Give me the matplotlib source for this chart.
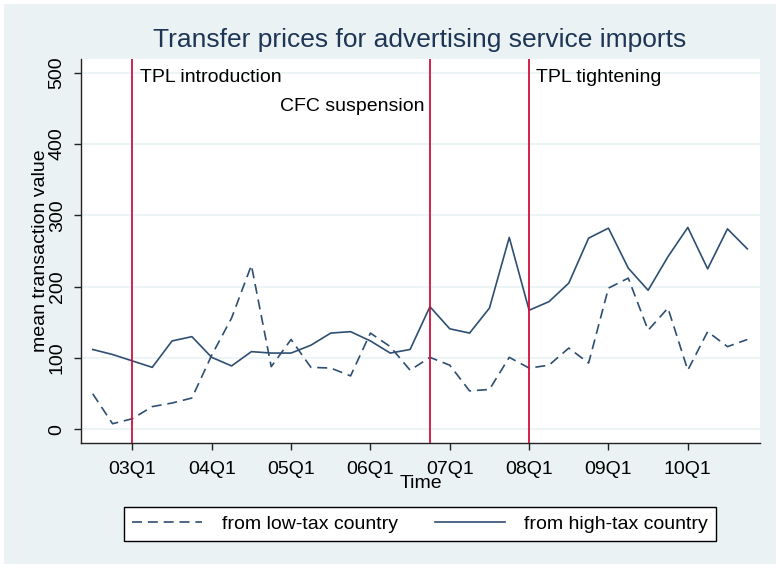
import matplotlib
matplotlib.use("Agg")
import matplotlib.pyplot as plt
import matplotlib.patches as patches

plt.rcParams["font.family"] = ["Liberation Sans", "DejaVu Sans"]

BG = "#eaf2f3"
LINE_COLOR = "#2e4f72"
EVENT_COLOR = "#d0103a"
TITLE_COLOR = "#1e3556"
FS = 14

# quarters counted from 2003Q1 = 0
quarters = list(range(-2, 32))
low_tax = [50, 8, 15, 32, 37, 44, 104, 156, 230, 88, 126, 87, 86, 75, 135, 116,
           83, 101, 90, 54, 56, 101, 86, 90, 114, 93, 198, 212, 139, 170, 83, 137,
           116, 126]
high_tax = [112, 105, 96, 87, 124, 130, 101, 89, 109, 107, 107, 118, 135, 137, 124, 107,
            112, 172, 141, 135, 170, 269, 167, 179, 205, 268, 282, 226, 195, 242, 283, 225,
            281, 253]

tick_quarters = [0, 4, 8, 12, 16, 20, 24, 28]
tick_labels = ["03Q1", "04Q1", "05Q1", "06Q1", "07Q1", "08Q1", "09Q1", "10Q1"]
y_ticks = [0, 100, 200, 300, 400, 500]

events = [0, 15, 20]
event_labels = ["TPL introduction", "CFC suspension", "TPL tightening"]


def main() -> None:
    fig = plt.figure(figsize=(7.8, 5.68), dpi=100, facecolor="white")
    fig.patches.append(
        patches.Rectangle((4 / 780, 4 / 568), 772 / 780, 560 / 568,
                          transform=fig.transFigure, facecolor=BG, edgecolor="none", zorder=-10)
    )
    ax = fig.add_axes([81 / 780, 1 - 443 / 568, 679 / 780, 384 / 568])
    ax.set_facecolor("white")

    ax.plot(quarters, low_tax, color=LINE_COLOR, lw=1.2, linestyle=(0, (6, 3.5)),
            label="from low-tax country")
    ax.plot(quarters, high_tax, color=LINE_COLOR, lw=1.2, label="from high-tax country")

    for q in events:
        ax.axvline(q, color=EVENT_COLOR, lw=1.3, zorder=3)

    ax.text(events[0] + 0.4, 493, event_labels[0], fontsize=FS, va="center", ha="left")
    ax.text(events[1] - 0.25, 453, event_labels[1], fontsize=FS, va="center", ha="right")
    ax.text(events[2] + 0.35, 493, event_labels[2], fontsize=FS, va="center", ha="left")

    ax.set_xlim(-2.59, 31.64)
    ax.set_ylim(-19, 519)
    ax.set_xticks(tick_quarters)
    ax.set_xticklabels(tick_labels)
    ax.set_yticks(y_ticks)
    ax.set_yticklabels([str(v) for v in y_ticks], rotation=90, va="center")
    for v in y_ticks:
        ax.axhline(v, color=BG, lw=1.2, zorder=0)

    for side in ("top", "right"):
        ax.spines[side].set_visible(False)
    for side in ("left", "bottom"):
        ax.spines[side].set_color("#222222")
        ax.spines[side].set_linewidth(1.0)
    ax.tick_params(axis="both", direction="out", length=5, width=1, color="#222222",
                   labelsize=FS)
    ax.tick_params(axis="x", pad=8)
    ax.tick_params(axis="y", pad=6)

    ax.set_xlabel("Time", fontsize=FS, labelpad=-2)
    ax.set_ylabel("mean transaction value", fontsize=FS, labelpad=0)
    fig.text(420 / 780, 1 - 40 / 568, "Transfer prices for advertising service imports",
             ha="center", va="center", fontsize=19, color=TITLE_COLOR)

    leg = fig.legend(loc="center", bbox_to_anchor=(420 / 780, 1 - 524 / 568), ncol=2,
                     fontsize=FS, handlelength=3.6, handletextpad=1.0, columnspacing=1.9,
                     frameon=True, fancybox=False, borderpad=0.4, borderaxespad=0)
    leg.get_frame().set_edgecolor("black")
    leg.get_frame().set_linewidth(1.0)
    leg.get_frame().set_facecolor("white")
    leg.get_frame().set_alpha(1)

    fig.savefig("out.png", dpi=100, facecolor=fig.get_facecolor())
    plt.close(fig)


if __name__ == "__main__":
    main()
